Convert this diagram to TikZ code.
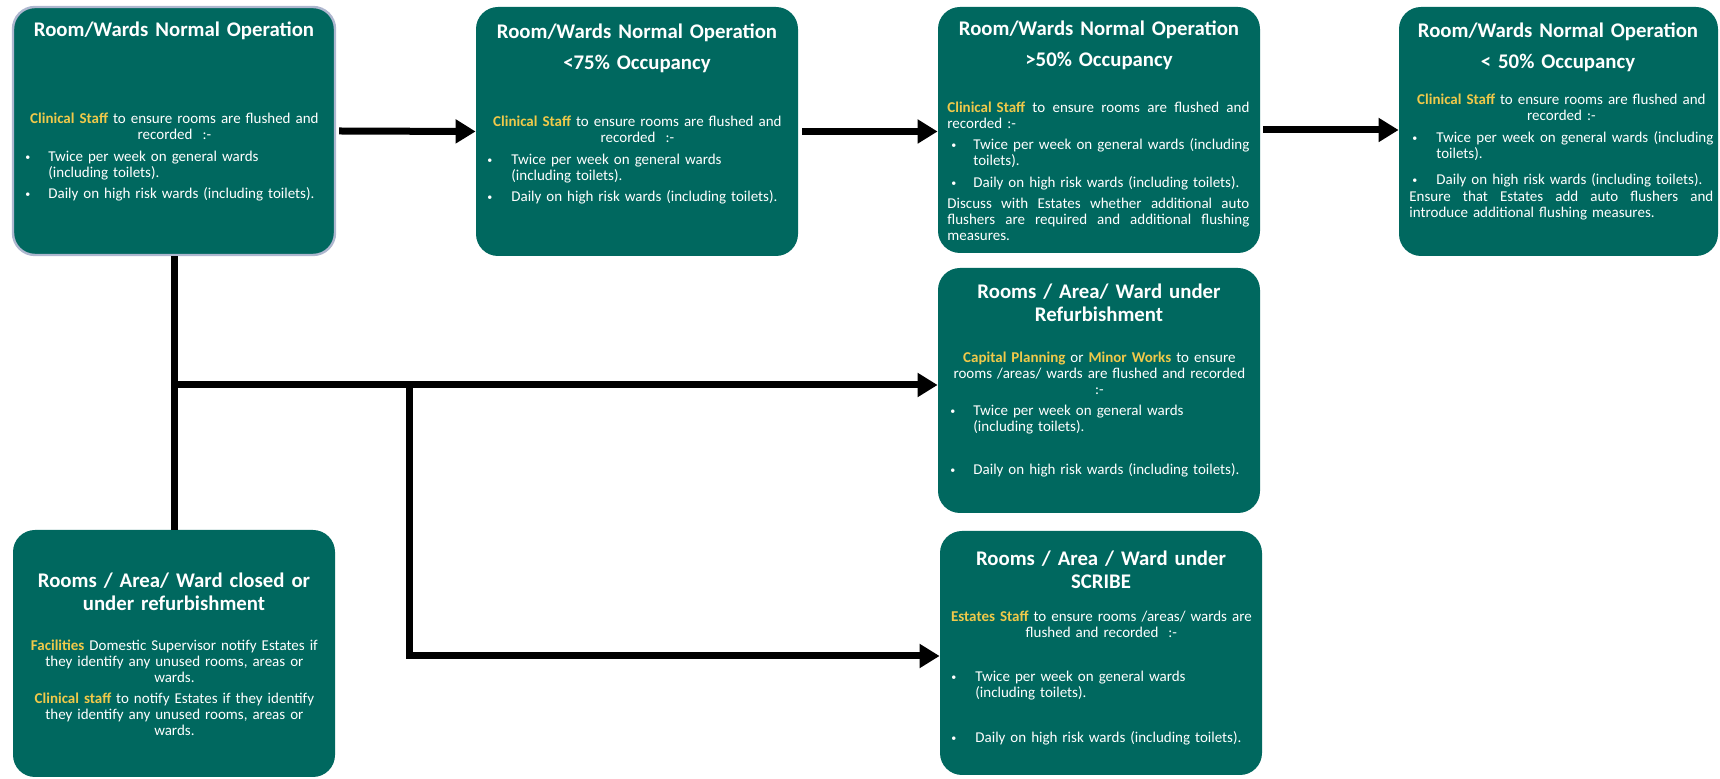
\documentclass[tikz,border=0pt]{standalone}
\usepackage{fontspec}
\setmainfont{Carlito}
\usetikzlibrary{arrows.meta}
\definecolor{boxteal}{HTML}{00685F}
\definecolor{hl}{HTML}{F0C94A}
\definecolor{bordr}{HTML}{AEB7CF}
\newcommand\Y[1]{\textcolor{hl}{\bfseries #1}}
\newcommand\smbul{\raisebox{0.8pt}{\fontsize{5pt}{5pt}\selectfont\textbullet}}
\newcommand\bitem[3]{\par\noindent\hangindent=#2\hangafter=1\hbox to #2{\hspace{#1}\smbul\hfil}#3\par}
\newcommand\jl[2]{\hbox to #1{#2}}
\begin{document}
\begin{tikzpicture}[x=0.5pt,y=-0.5pt,
  box/.style={fill=boxteal, rounded corners=11pt, inner sep=0, draw=none},
  ttl/.style={text=white, font=\fontsize{10.4pt}{11.2pt}\selectfont\bfseries, inner sep=0, align=center, text width=158pt, anchor=base},
  body/.style={text=white, font=\fontsize{7.5pt}{8pt}\selectfont, inner sep=0, anchor=base west},
  conn/.style={line width=3.5pt, -{Triangle[length=10pt,width=11.5pt]}},
  trunk/.style={line width=3.5pt}]
\useasboundingbox (0,0) rectangle (1720,779);

% boxes
\node[box, draw=bordr, line width=1.2pt, minimum width=161pt, minimum height=124pt] (b1) at (174,131) {};
\node[box, minimum width=161pt, minimum height=124.5pt] (b2) at (637,131.5) {};
\node[box, minimum width=161pt, minimum height=123pt] (b3) at (1099,130) {};
\node[box, minimum width=159.5pt, minimum height=124.5pt] (b4) at (1558.5,131.5) {};
\node[box, minimum width=161pt, minimum height=122.5pt] (b5) at (1099,390.5) {};
\node[box, minimum width=161pt, minimum height=122pt] (b6) at (1101,653) {};
\node[box, minimum width=161pt, minimum height=123.5pt] (b7) at (174,653.5) {};

% titles
\node[ttl] (t1) at (174,37) {Room/Wards Normal Operation};
\node[ttl] (t2) at (637,39) {Room/Wards Normal Operation\\[4.3pt]<75\% Occupancy};
\node[ttl] (t3) at (1099,36) {Room/Wards Normal Operation\\[4.3pt]>50\% Occupancy};
\node[ttl] (t4) at (1558,38) {Room/Wards Normal Operation\\[4.3pt]< 50\% Occupancy};
\node[ttl] (t5) at (1099,299) {Rooms / Area/ Ward under\\Refurbishment};
\node[ttl] (t6) at (1101,566) {Rooms / Area / Ward under\\SCRIBE};
\node[ttl] (t7) at (174,588) {Rooms / Area/ Ward closed or\\under refurbishment};

% bodies
\node[body, text width=149pt] (d1) at (25,124) {%
  {\centering \Y{Clinical Staff} to ensure rooms are flushed and\\ recorded\ \ :-\par}
  \vspace{3pt}
  {\raggedright
  \bitem{0pt}{11.5pt}{Twice per week on general wards\newline(including toilets).}
  \vspace{2.5pt}
  \bitem{0pt}{11.5pt}{Daily on high risk wards (including toilets).}}};

\node[body, text width=150pt] (d2) at (487,127) {%
  {\centering \Y{Clinical Staff} to ensure rooms are flushed and\\ recorded\ \ :-\par}
  \vspace{3pt}
  {\raggedright
  \bitem{0pt}{12pt}{Twice per week on general wards\newline(including toilets).}
  \vspace{2.5pt}
  \bitem{0pt}{12pt}{Daily on high risk wards (including toilets).}}};

\node[body, text width=151pt] (d3) at (947,113) {%
  {\raggedright
  \noindent\jl{151pt}{\Y{Clinical\ Staff}\hfill to\hfill ensure\hfill rooms\hfill are\hfill flushed\hfill and}\par
  \noindent recorded :-\par
  \vspace{2.5pt}
  \bitem{2pt}{13pt}{\jl{138pt}{Twice\hfill per\hfill week\hfill on\hfill general\hfill wards\hfill (including}\newline toilets).}
  \vspace{3pt}
  \bitem{2pt}{13pt}{Daily on high risk wards (including toilets).}
  \vspace{2.5pt}
  \noindent\jl{151pt}{Discuss\hfill with\hfill Estates\hfill whether\hfill additional\hfill auto}\par
  \noindent\jl{151pt}{flushers\hfill are\hfill required\hfill and\hfill additional\hfill flushing}\par
  \noindent measures.\par}};

\node[body, text width=152pt] (d4) at (1409,105) {%
  {\centering \Y{Clinical Staff} to ensure rooms are flushed and\\ recorded :-\par}
  \vspace{3pt}
  {\raggedright
  \bitem{1.5pt}{13.5pt}{\jl{138.5pt}{Twice\hfill per\hfill week\hfill on\hfill general\hfill wards\hfill (including}\newline toilets).}
  \vspace{5pt}
  \bitem{1.5pt}{13.5pt}{Daily on high risk wards (including toilets).}
  \vspace{0.5pt}
  \noindent\jl{152pt}{Ensure\hfill that\hfill Estates\hfill add\hfill auto\hfill flushers\hfill and}\par
  \noindent introduce additional flushing measures.\par}};

\node[body, text width=149pt] (d5) at (950,363) {%
  {\centering \Y{Capital Planning} or \Y{Minor Works} to ensure\\ rooms /areas/ wards are flushed and recorded\\ :-\par}
  \vspace{2.5pt}
  {\raggedright
  \bitem{0pt}{11.5pt}{Twice per week on general wards\newline(including toilets).}
  \vspace{13.5pt}
  \bitem{0pt}{11.5pt}{Daily on high risk wards (including toilets).}}};

\node[body, text width=154pt] (d6) at (947,622) {%
  {\centering \Y{Estates Staff} to ensure rooms /areas/ wards are\\ flushed and recorded\ \ :-\par}
  \vspace{14pt}
  {\raggedright
  \bitem{2pt}{14pt}{Twice per week on general wards\newline(including toilets).}
  \vspace{14.5pt}
  \bitem{2pt}{14pt}{Daily on high risk wards (including toilets).}}};

\node[body, text width=149pt] (d7) at (25,651) {%
  {\centering \Y{Facilities} Domestic Supervisor notify Estates if\\ they identify any unused rooms, areas or\\ wards.\par}
  \vspace{2.5pt}
  {\centering \Y{Clinical staff} to notify Estates if they identify\\ they identify any unused rooms, areas or\\ wards.\par}};

% connectors
\draw[conn] ([xshift=1.5pt]b1.east) -- (b2.west);
\draw[conn] ([xshift=2pt]b2.east) -- (b3.west |- b2.east);
\draw[conn] ([xshift=1.5pt]b3.east) -- (b4.west |- b3.east);
\draw[trunk] (b1.south) -- (b7.north);
\coordinate (j1) at (174,385);
\coordinate (j2) at (409,385);
\draw[conn] (j1) -- (j1 -| b5.west);
\draw[conn] (j2) |- ([yshift=-1.5pt]b6.west);
\end{tikzpicture}
\end{document}
